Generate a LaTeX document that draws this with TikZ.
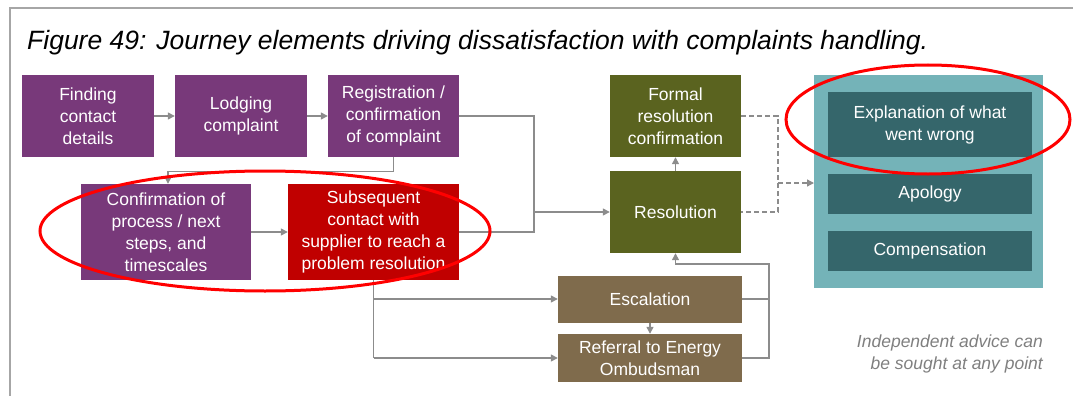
\documentclass[tikz,border=0pt]{standalone}
\usepackage{fontspec}
\setmainfont{Liberation Sans}
\usetikzlibrary{arrows.meta}
\definecolor{purp}{HTML}{78397A}
\definecolor{redbox}{HTML}{C00000}
\definecolor{olive}{HTML}{5A631F}
\definecolor{brownbox}{HTML}{7F6B4C}
\definecolor{tealout}{HTML}{74B3B8}
\definecolor{tealin}{HTML}{35666B}
\definecolor{conngray}{HTML}{8C8C8C}
\definecolor{framegray}{HTML}{A6A6A6}
\definecolor{notegray}{HTML}{7F7F7F}
\tikzset{
  boxbase/.style={inner sep=0pt, align=center, text=white, font=\fontsize{17.5}{22}\selectfont},
  pbox/.style={boxbase, fill=purp, minimum width=132pt, minimum height=82pt},
  rbox/.style={boxbase, fill=redbox, minimum width=171pt, minimum height=96pt},
  obox/.style={boxbase, fill=olive, minimum width=131pt, minimum height=82pt},
  bbox/.style={boxbase, fill=brownbox, minimum width=184pt},
  tbox/.style={boxbase, fill=tealin, minimum width=204pt},
  conn/.style={draw=conngray, line width=1.3pt},
  arr/.style={conn, -{Triangle[length=7pt,width=7pt]}},
  dconn/.style={conn, dash pattern=on 5pt off 3pt},
  darr/.style={dconn, -{Triangle[length=7pt,width=7pt]}},
  redring/.style={draw=red, line width=3pt},
  notetext/.style={anchor=base east, inner sep=0pt, text=notegray, font=\fontsize{17.5}{22}\selectfont\itshape},
}
\begin{document}
\begin{tikzpicture}[x=1pt,y=-1pt]
\useasboundingbox (0,0) rectangle (1073,396);
% frame
\draw[framegray, line width=2pt] (10,396) -- (10,8) -- (1073,8);
% title
\node[anchor=base west, inner sep=0pt, font=\fontsize{26.5}{30}\selectfont\itshape] (title) at (27,49.5)
  {Figure 49: Journey elements driving dissatisfaction with complaints handling.};
% teal container
\node[fill=tealout, minimum width=229pt, minimum height=213pt, inner sep=0pt] (teal) at (928.5,181.5) {};
\node[tbox, minimum height=65pt] (expl) at (930,124.5) {Explanation of what\\went wrong};
\node[tbox, minimum height=40pt] (apol) at (930,194) {Apology};
\node[tbox, minimum height=40pt] (comp) at (930,251) {Compensation};
% purple row
\node[pbox] (find) at (88,116) {Finding\\contact\\details};
\node[pbox] (lodge) at (241,116) {Lodging\\complaint};
\node[pbox, minimum width=131pt] (reg) at (393.5,116) {Registration /\\confirmation\\of complaint};
\node[pbox, minimum width=170pt, minimum height=96pt] (conf) at (166,232) {Confirmation of\\process / next\\steps, and\\timescales};
\node[rbox] (subs) at (373.5,232) {Subsequent\\contact with\\supplier to reach a\\problem resolution};
% olive
\node[obox] (formal) at (675.5,116) {Formal\\resolution\\confirmation};
\node[obox] (resol) at (675.5,212) {Resolution};
% brown
\node[bbox, minimum height=47pt] (escal) at (650,299) {Escalation};
\node[bbox, minimum height=48pt] (refer) at (650,358) {Referral to Energy\\Ombudsman};
% note
\node[notetext] (note1) at (1043,347) {Independent advice can};
\node[notetext] (note2) at (1043,369) {be sought at any point};
% coordinates
\coordinate (jtop) at (534,116);
\coordinate (jbot) at (534,232);
\coordinate (jmid) at (534,212);
\coordinate (dtop) at (778,116);
\coordinate (dbot) at (778,212);
\coordinate (dmid) at (778,183);
\coordinate (tin) at (814,183);
\coordinate (lbot) at (373.5,358);
\coordinate (lmid) at (373.5,299);
\coordinate (rtop) at (769,264);
\coordinate (rmid) at (769,299);
\coordinate (rbot) at (769,358);
% connectors
\draw[arr] (find) -- (lodge);
\draw[arr] (lodge) -- (reg);
\draw[arr] (reg.south) -- ++(0,14) -| ([xshift=2pt]conf.north);
\draw[arr] (conf) -- (subs);
\draw[conn] (reg.east) -- (jtop) -- (jbot) -- (subs.east);
\draw[arr] (jmid) -- (resol.west);
\draw[arr] (resol) -- (formal);
\draw[dconn] (formal.east) -- (dtop) -- (dbot) -- (resol.east);
\draw[darr] (dmid) -- (tin);
\draw[conn] (subs.south) -- (lbot);
\draw[arr] (lmid) -- (lmid -| escal.west);
\draw[arr] (lbot) -- (refer.west |- lbot);
\draw[arr] (escal) -- (refer);
\draw[conn] (escal.east |- rmid) -- (rmid);
\draw[arr] (refer.east |- rbot) -- (rbot) -- (rtop) -- (rtop -| resol.south) -- (resol.south);
% red rings
\draw[redring] (265,231) ellipse [x radius=225, y radius=60];
\draw[redring] (928,119.5) ellipse [x radius=142, y radius=54.5];
\end{tikzpicture}
\end{document}
